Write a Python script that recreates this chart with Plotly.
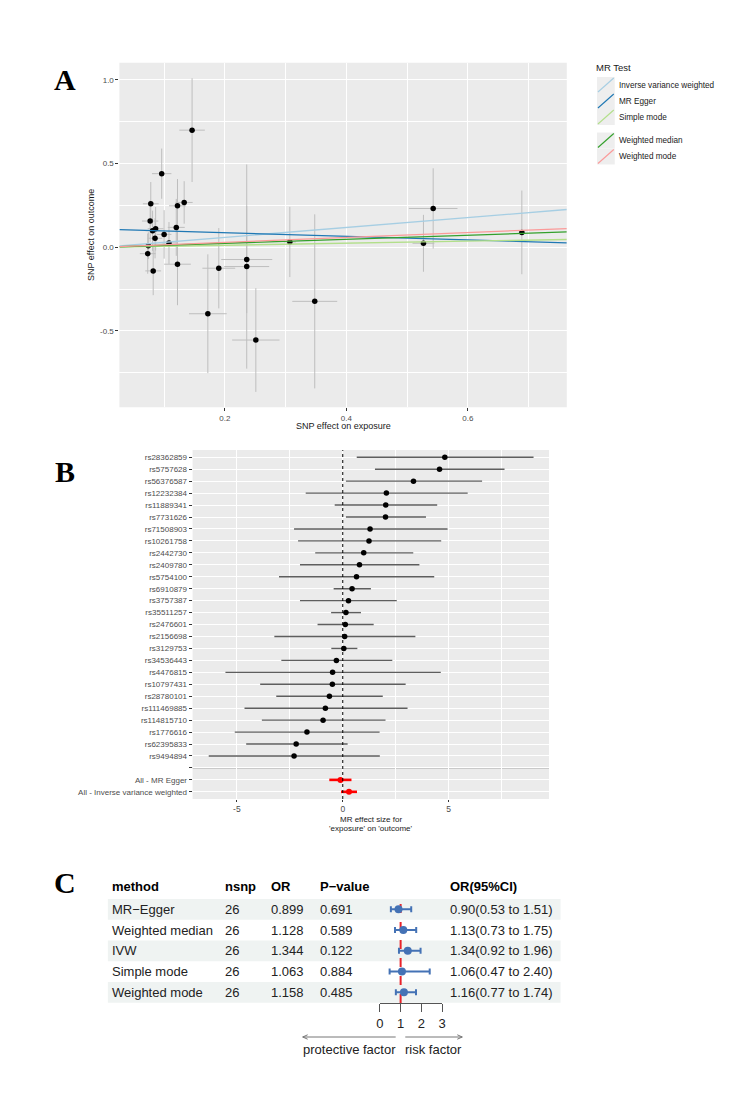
import plotly.graph_objects as go

W, H = 734, 1101


def px(x):
    return x / W


def py(y):
    return 1 - y / H


# ---------------- Panel A data ----------------
exp_beta = [0.146, 0.096, 0.078, 0.133, 0.122, 0.077, 0.086, 0.081, 0.100, 0.120, 0.085, 0.108, 0.074,
            0.073, 0.082, 0.122, 0.172, 0.190, 0.236, 0.236, 0.251, 0.307, 0.348, 0.543, 0.527, 0.689]
out_beta = [0.70, 0.44, 0.26, 0.268, 0.248, 0.157, 0.111, 0.099, 0.077, 0.119, 0.054, 0.026, 0.010,
            -0.038, -0.141, -0.101, -0.397, -0.125, -0.073, -0.115, -0.554, 0.032, -0.323, 0.232, 0.024, 0.089]
exp_err = [0.021, 0.016, 0.013, 0.014, 0.014, 0.0135, 0.013, 0.012, 0.012, 0.014, 0.012, 0.012, 0.010,
           0.013, 0.013, 0.022, 0.031, 0.027, 0.042, 0.037, 0.039, 0.010, 0.037, 0.040, 0.018, 0.005]
out_err = [0.31, 0.15, 0.13, 0.127, 0.16, 0.124, 0.13, 0.12, 0.145, 0.17, 0.12, 0.125, 0.08,
           0.12, 0.145, 0.245, 0.355, 0.24, 0.32, 0.61, 0.31, 0.21, 0.52, 0.24, 0.17, 0.25]

mr_methods = ["Inverse variance weighted", "MR Egger", "Simple mode", "Weighted median", "Weighted mode"]
mr_slope = [0.296, -0.1065, 0.061, 0.1205, 0.1467]
mr_intercept = [0.0, 0.108, 0.0, 0.0, 0.0]
mr_colors = ["#a6cee3", "#1f78b4", "#b2df8a", "#33a02c", "#fb9a99"]

A_xrange = [0.0264, 0.763]
A_yrange = [-0.956, 1.103]

# ---------------- Panel B data ----------------
snps = ["rs28362859", "rs5757628", "rs56376587", "rs12232384", "rs11889341", "rs7731626", "rs71508903",
        "rs10261758", "rs2442730", "rs2409780", "rs5754100", "rs6910879", "rs3757387", "rs35511257",
        "rs2476601", "rs2156698", "rs3129753", "rs34536443", "rs4476815", "rs10797431", "rs28780101",
        "rs111469885", "rs114815710", "rs1776616", "rs62395833", "rs9494894"]
snp_b = [4.82, 4.57, 3.34, 2.06, 2.03, 2.02, 1.29, 1.24, 0.99, 0.79, 0.65, 0.44, 0.27, 0.15, 0.12, 0.09,
         0.05, -0.30, -0.48, -0.49, -0.63, -0.82, -0.93, -1.69, -2.20, -2.30]
snp_lo = [0.66, 1.52, 0.15, -1.75, -0.38, 0.15, -2.30, -2.11, -1.30, -2.02, -3.01, -0.43, -2.02, -0.55,
          -1.19, -3.23, -0.54, -2.90, -5.54, -3.90, -3.14, -4.64, -3.82, -5.10, -4.56, -6.33]
snp_hi = [9.01, 7.64, 6.58, 5.90, 4.46, 3.93, 4.95, 4.65, 3.33, 3.62, 4.32, 1.33, 2.55, 0.86, 1.46, 3.43,
          0.69, 2.34, 4.63, 2.97, 1.89, 3.06, 2.02, 1.74, 0.23, 1.75]
all_labels = ["All - MR Egger", "All - Inverse variance weighted"]
all_b = [-0.1065, 0.296]
all_lo = [-0.635, -0.083]
all_hi = [0.412, 0.673]

B_xrange = [-7.09, 9.74]

# ---------------- Panel C data ----------------
c_methods = ["MR−Egger", "Weighted median", "IVW", "Simple mode", "Weighted mode"]
c_nsnp = [26, 26, 26, 26, 26]
c_or = [0.899, 1.128, 1.344, 1.063, 1.158]
c_p = [0.691, 0.589, 0.122, 0.884, 0.485]
c_lo = [0.53, 0.73, 0.92, 0.47, 0.77]
c_hi = [1.51, 1.75, 1.96, 2.40, 1.74]
c_headers = ["method", "nsnp", "OR", "P−value", "OR(95%CI)"]

fig = go.Figure()

# ---------- Panel A traces ----------
fig.add_trace(go.Scatter(
    x=exp_beta, y=out_beta, mode="markers", xaxis="x", yaxis="y", showlegend=False,
    marker=dict(color="black", size=5.5),
    error_x=dict(type="data", array=exp_err, color="#BEBEBE", thickness=1, width=0),
    error_y=dict(type="data", array=out_err, color="#BEBEBE", thickness=1, width=0),
    cliponaxis=True,
))
for name, s, ic, col in zip(mr_methods, mr_slope, mr_intercept, mr_colors):
    xs = A_xrange
    fig.add_trace(go.Scatter(
        x=xs, y=[ic + s * v for v in xs], mode="lines", name=name, xaxis="x", yaxis="y",
        line=dict(color=col, width=1.3), showlegend=False,
    ))

# ---------- Panel B traces ----------
rows = list(range(len(snps)))
fig.add_trace(go.Scatter(
    x=snp_b, y=rows, mode="markers", xaxis="x2", yaxis="y2", showlegend=False,
    marker=dict(color="black", size=5.5),
    error_x=dict(type="data", symmetric=False,
                 array=[h - b for h, b in zip(snp_hi, snp_b)],
                 arrayminus=[b - l for b, l in zip(snp_b, snp_lo)],
                 color="#5E5E5E", thickness=1.4, width=0),
))
sum_rows = [len(snps) + 1, len(snps) + 2]
fig.add_trace(go.Scatter(
    x=all_b, y=sum_rows, mode="markers", xaxis="x2", yaxis="y2", showlegend=False,
    marker=dict(color="red", size=6),
    error_x=dict(type="data", symmetric=False,
                 array=[h - b for h, b in zip(all_hi, all_b)],
                 arrayminus=[b - l for b, l in zip(all_b, all_lo)],
                 color="red", thickness=2.6, width=0),
))

# ---------- Panel C traces ----------
c_rows = list(range(len(c_methods)))
fig.add_trace(go.Scatter(
    x=c_or, y=c_rows, mode="markers", xaxis="x3", yaxis="y3", showlegend=False,
    marker=dict(color="#4472B5", size=8),
    error_x=dict(type="data", symmetric=False,
                 array=[h - o for h, o in zip(c_hi, c_or)],
                 arrayminus=[o - l for o, l in zip(c_or, c_lo)],
                 color="#4472B5", thickness=2, width=3),
    cliponaxis=False,
))

tickfont = dict(family="Liberation Sans, Arial", size=8, color="#4D4D4D")

# Panel geometry (pixels)
A_l, A_r, A_t, A_b = 116.7, 569, 62.7, 407.3
B_l, B_r, B_t, B_b = 190.7, 551, 450.1, 799
C_row0, C_step = 909.3, 20.75
C_top = C_row0 - 1.5 * C_step
C_bot = C_row0 + 7 * C_step

fig.update_layout(
    width=W, height=H, margin=dict(l=0, r=0, t=0, b=0),
    paper_bgcolor="white", plot_bgcolor="rgba(0,0,0,0)",
    showlegend=False,
    font=dict(family="Liberation Sans, Arial", color="#1A1A1A"),
    xaxis=dict(domain=[px(A_l), px(A_r)], range=A_xrange, anchor="y",
               tickvals=[0.2, 0.4, 0.6], ticktext=["0.2", "0.4", "0.6"],
               showgrid=True, gridcolor="white", gridwidth=1.1, zeroline=False,
               ticks="outside", ticklen=3, tickcolor="#333333", tickfont=tickfont,
               minor=dict(tickvals=[0.1, 0.3, 0.5, 0.7], showgrid=True, gridcolor="white", gridwidth=0.55, ticks=""),
               showline=False),
    yaxis=dict(domain=[py(A_b), py(A_t)], range=A_yrange, anchor="x",
               tickvals=[-0.5, 0, 0.5, 1.0], ticktext=["-0.5", "0.0", "0.5", "1.0"],
               showgrid=True, gridcolor="white", gridwidth=1.1, zeroline=False,
               ticks="outside", ticklen=3, tickcolor="#333333", tickfont=tickfont,
               minor=dict(tickvals=[-0.75, -0.25, 0.25, 0.75], showgrid=True, gridcolor="white", gridwidth=0.55, ticks=""),
               showline=False),
    xaxis2=dict(domain=[px(B_l), px(B_r)], range=B_xrange, anchor="y2",
                tickvals=[-5, 0, 5], ticktext=["-5", "0", "5"],
                showgrid=True, gridcolor="white", gridwidth=1.1, zeroline=False,
                ticks="outside", ticklen=2, tickcolor="#333333",
                tickfont=dict(family="Liberation Sans, Arial", size=8.5, color="#4D4D4D"),
                minor=dict(tickvals=[-2.5, 2.5, 7.5], showgrid=True, gridcolor="white", gridwidth=0.55, ticks=""),
                showline=False),
    yaxis2=dict(domain=[py(B_b), py(B_t)], range=[len(snps) + 2.6, -0.6], anchor="x2",
                tickvals=list(range(len(snps) + 3)),
                ticktext=snps + [""] + all_labels,
                showgrid=True, gridcolor="white", gridwidth=1, zeroline=False,
                ticks="outside", ticklen=3, tickcolor="#333333", tickfont=tickfont,
                showline=False),
    xaxis3=dict(domain=[px(380), px(443)], range=[0, 3], anchor="free", position=py(1003),
                tickvals=[0, 1, 2, 3], showgrid=False, zeroline=False,
                showline=True, linecolor="#555555", linewidth=1,
                ticks="outside", ticklen=8, tickcolor="#555555", tickwidth=1,
                tickfont=dict(family="Liberation Sans, Arial", size=13, color="#222222")),
    yaxis3=dict(domain=[py(C_bot), py(C_top)], range=[7, -1.5], anchor="x3", visible=False,
                showgrid=False, zeroline=False),
)

shapes = []
# gray panel backgrounds
shapes.append(dict(type="rect", xref="paper", yref="paper", x0=px(A_l), x1=px(A_r), y0=py(A_b), y1=py(A_t),
                   fillcolor="#EBEBEB", line=dict(width=0), layer="below"))
shapes.append(dict(type="rect", xref="paper", yref="paper", x0=px(B_l), x1=px(B_r), y0=py(B_b), y1=py(B_t),
                   fillcolor="#EBEBEB", line=dict(width=0), layer="below"))
# panel C row bands
for i in c_rows:
    if i % 2 == 0:
        yc = C_row0 + i * C_step
        shapes.append(dict(type="rect", xref="paper", yref="paper", x0=px(105), x1=px(562.7),
                           y0=py(yc + C_step / 2), y1=py(yc - C_step / 2),
                           fillcolor="#EFF3F2", line=dict(width=0), layer="below"))
# panel B: dotted zero line & separator
shapes.append(dict(type="line", xref="x2", yref="y2 domain", x0=0, x1=0, y0=0, y1=1,
                   line=dict(color="black", width=1, dash="dot"), layer="above"))
shapes.append(dict(type="line", xref="x2 domain", yref="y2", x0=0, x1=1, y0=len(snps), y1=len(snps),
                   line=dict(color="#BEBEBE", width=1.6), layer="below"))
# panel C: red dashed line at OR = 1
shapes.append(dict(type="line", xref="x3", yref="paper", x0=1, x1=1, y0=py(1003), y1=py(C_row0 - C_step / 2),
                   line=dict(color="#E8232A", width=2, dash="dash"), layer="below"))
# panel C arrows
ay = 1037
for x_tail, x_tip in [(396, 302), (405.7, 463.3)]:
    shapes.append(dict(type="line", xref="paper", yref="paper", x0=px(x_tail), x1=px(x_tip), y0=py(ay), y1=py(ay),
                       line=dict(color="#777777", width=1)))
    d = 5 if x_tip < x_tail else -5
    for dy in (-2.2, 2.2):
        shapes.append(dict(type="line", xref="paper", yref="paper", x0=px(x_tip), x1=px(x_tip + d),
                           y0=py(ay), y1=py(ay + dy), line=dict(color="#777777", width=1)))

# legend keys for panel A
leg_y = [85, 101, 117, 140.5, 156.5]
for yc, col in zip(leg_y, mr_colors):
    shapes.append(dict(type="rect", xref="paper", yref="paper", x0=px(599.5), x1=px(617.5),
                       y0=py(yc + 8), y1=py(yc - 8), fillcolor="#EEEEEE", line=dict(width=0)))
    shapes.append(dict(type="line", xref="paper", yref="paper", x0=px(600.5), x1=px(616.5),
                       y0=py(yc + 7), y1=py(yc - 7), line=dict(color=col, width=1.1)))
fig.update_layout(shapes=shapes)

ann = []


def text(x, y, s, size, color="#1A1A1A", xanchor="center", family="Liberation Sans, Arial", angle=0, bold=False):
    if bold:
        s = "<b>" + s + "</b>"
    ann.append(dict(x=px(x), y=py(y), xref="paper", yref="paper", text=s, showarrow=False,
                    xanchor=xanchor, yanchor="middle", textangle=angle,
                    font=dict(size=size, color=color, family=family)))


# panel letters
text(62, 79, "A", 30, "black", family="Liberation Serif, Times New Roman", bold=True)
text(62, 471, "B", 30, "black", family="Liberation Serif, Times New Roman", bold=True)
text(62, 882, "C", 30, "black", family="Liberation Serif, Times New Roman", bold=True)

# panel A titles
text((A_l + A_r) / 2, 426, "SNP effect on exposure", 9)
text(88, (A_t + A_b) / 2, "SNP effect on outcome", 9, angle=-90)
# panel A legend
text(597, 67.5, "MR Test", 9.5, xanchor="left")
for yc, name in zip(leg_y, mr_methods):
    text(620, yc, name, 8.2, xanchor="left")

# panel B title
text((B_l + B_r) / 2, 819, "MR effect size for", 8)
text((B_l + B_r) / 2, 828, "'exposure' on 'outcome'", 8)

# panel C table
col_x = [107.3, 221.7, 268.3, 317.7, 449]
for cx, h in zip(col_x, c_headers):
    text(cx, 886.7, h, 13, "black", xanchor="left", bold=True)
for i in c_rows:
    yc = C_row0 + i * C_step
    cells = [c_methods[i], str(c_nsnp[i]), f"{c_or[i]:.3f}", f"{c_p[i]:.3f}",
             f"{c_or[i]:.2f}({c_lo[i]:.2f} to {c_hi[i]:.2f})"]
    for cx, s in zip(col_x, cells):
        text(cx, yc, s, 13, "#222222", xanchor="left")
text(349, 1049, "protective factor", 13, "#222222")
text(434, 1049, "risk factor", 13, "#222222")

fig.update_layout(annotations=ann)

fig.write_html("out.html", config={"displayModeBar": False},
               post_script="document.body.style.margin='0';")
